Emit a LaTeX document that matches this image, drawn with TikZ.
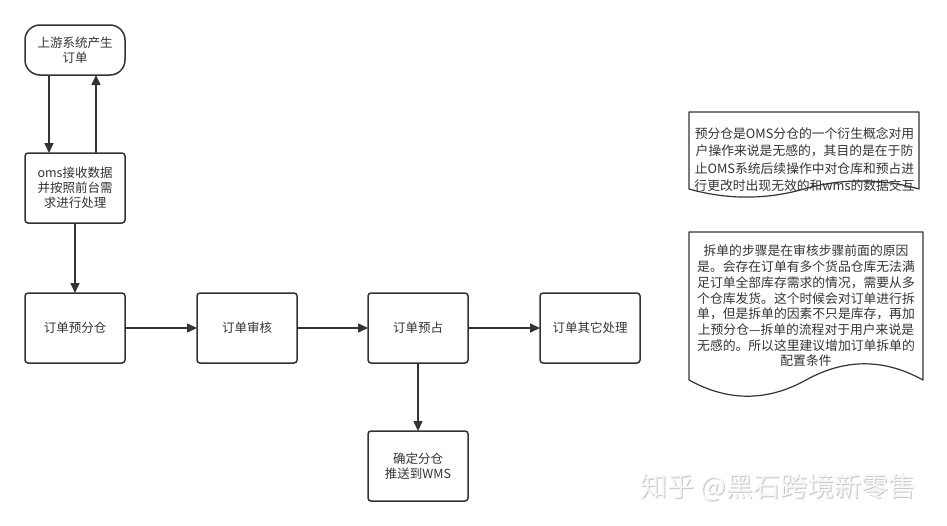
\documentclass[tikz,border=0pt]{standalone}
\usepackage{fontspec}
\setmainfont{Noto Sans CJK SC}
\usetikzlibrary{positioning,arrows.meta}
\definecolor{ink}{HTML}{333333}
\tikzset{box/.style={draw=ink,line width=1.5pt,rectangle,rounded corners=3pt,minimum width=100pt,minimum height=70pt,outer sep=0pt,align=center,text=ink,font=\fontsize{12.5}{15}\selectfont},
term/.style={box,rounded corners=15pt,minimum height=50pt},
arr/.style={-{Triangle[length=10pt,width=9pt]},draw=ink,line width=1.5pt},
note/.style={draw=ink,line width=1.2pt,line join=round},
notetext/.style={align=center,text=ink,inner sep=0pt,font=\fontsize{12.8}{17.6}\selectfont}}

\begin{document}
\begin{tikzpicture}[x=1pt,y=-1pt]
\useasboundingbox (0,0) rectangle (947,525);
\node[term] (upstream) at (75,50) {上游系统产生\\订单};
\node[box,below=78pt of upstream] (oms) {oms接收数据\\并按照前台需\\求进行处理};
\node[box,below=70pt of oms] (split) {订单预分仓};
\node[box,right=72pt of split] (audit) {订单审核};
\node[box,right=71pt of audit] (reserve) {订单预占};
\node[box,right=72pt of reserve] (other) {订单其它处理};
\node[box,below=68pt of reserve] (push) {确定分仓\\推送到WMS};
\draw[arr] ([xshift=-26pt]upstream.south) -- ([xshift=-26pt]oms.north);
\draw[arr] ([xshift=21pt]oms.north) -- ([xshift=21pt]upstream.south);
\draw[arr] (oms) -- (split);
\draw[arr] (split) -- (audit);
\draw[arr] (audit) -- (reserve);
\draw[arr] (reserve) -- (other);
\draw[arr] (reserve) -- (push);
% notes (document shapes)
\draw[note] (689,112) -- (919,112) -- (919,189)
  .. controls (880.67,178.2) and (842.33,178.2) .. (804,189)
  .. controls (765.67,199.8) and (727.33,199.8) .. (689,189) -- cycle;
\node[notetext] (whysplit) at (804.5,159.5) {预分仓是OMS分仓的一个衍生概念对用\\户操作来说是无感的，其目的是在于防\\止OMS系统后续操作中对仓库和预占进\\行更改时出现无效的和wms的数据交互};
\draw[note] (689,232) -- (923,232) -- (923,380)
  .. controls (884,358.4) and (845,358.4) .. (806,380)
  .. controls (767,401.6) and (728,401.6) .. (689,380) -- cycle;
\node[notetext,font=\fontsize{12.8}{15.7}\selectfont] (splitorder) at (806,306) {拆单的步骤是在审核步骤前面的原因\\是。会存在订单有多个货品仓库无法满\\足订单全部库存需求的情况，需要从多\\个仓库发货。这个时候会对订单进行拆\\单，但是拆单的因素不只是库存，再加\\上预分仓—拆单的流程对于用户来说是\\无感的。所以这里建议增加订单拆单的\\配置条件};
% watermark
\node[text=gray!45,font=\fontsize{27}{30}\selectfont] (wmshade) at (778.8,488.3) {知乎 @黑石跨境新零售};
\node[text=gray!6,font=\fontsize{27}{30}\selectfont] (wm) at (777.8,487.3) {知乎 @黑石跨境新零售};
\end{tikzpicture}
\end{document}
